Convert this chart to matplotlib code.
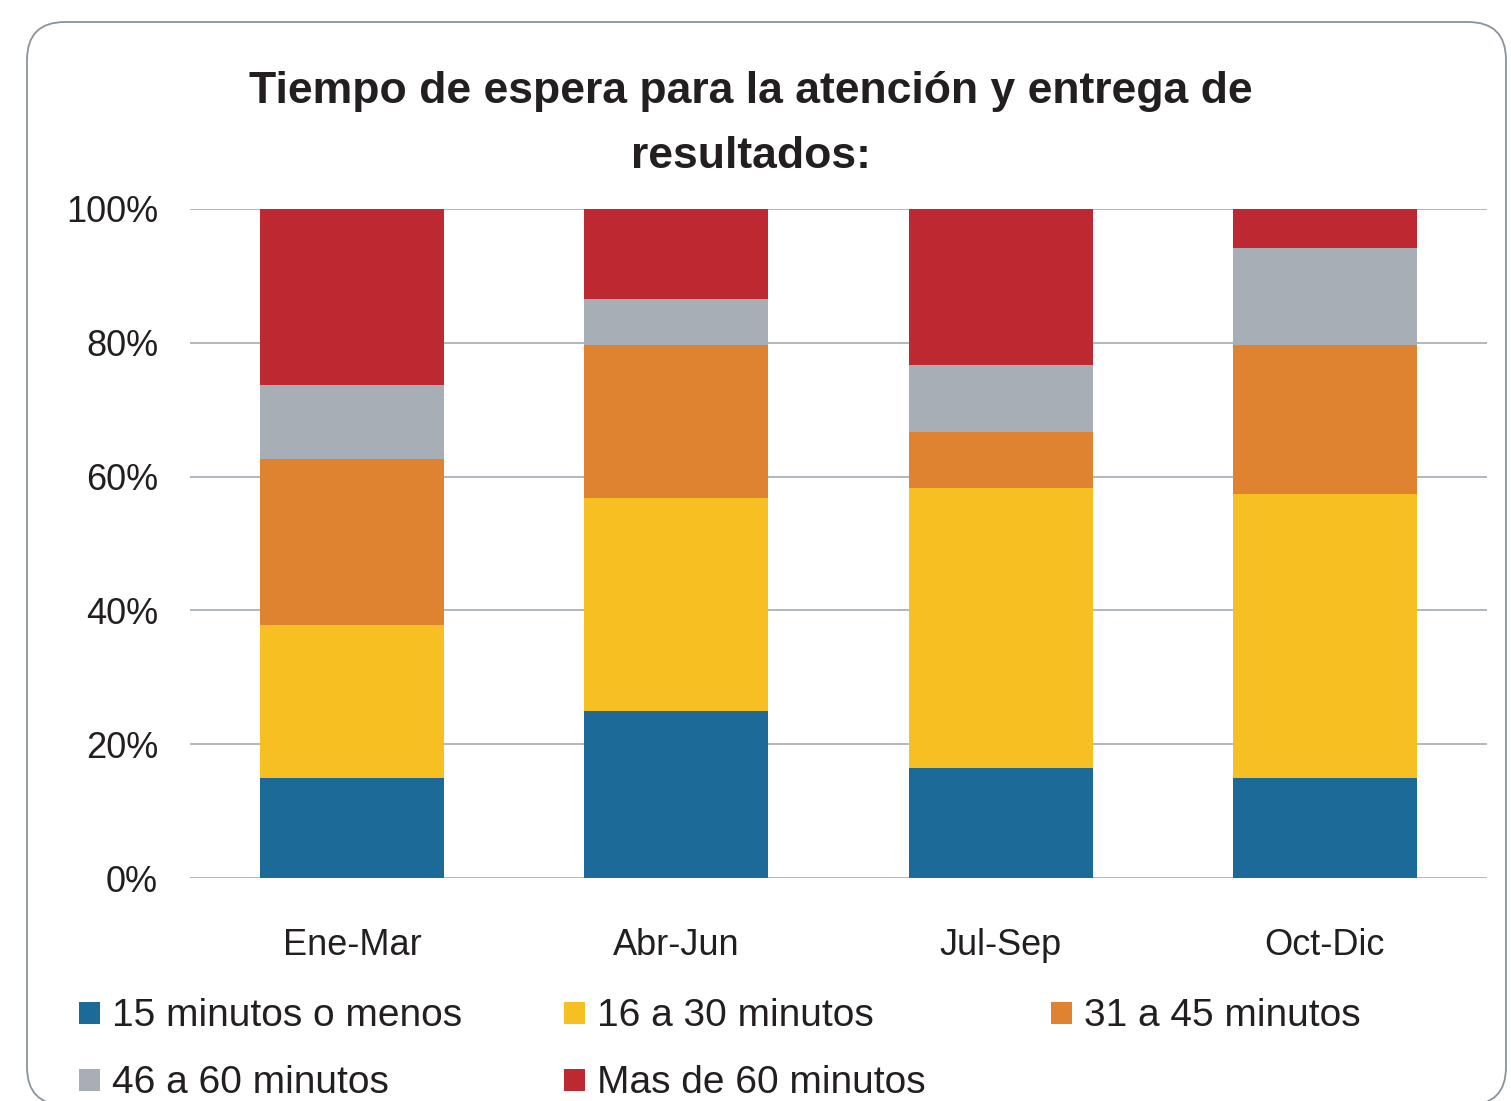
import matplotlib
matplotlib.use("Agg")
import matplotlib.pyplot as plt
from matplotlib.patches import FancyBboxPatch, Rectangle
import numpy as np

plt.rcParams['font.family'] = ['Liberation Sans Narrow', 'Liberation Sans', 'DejaVu Sans']

# datos (porcentajes por trimestre)
trimestres = ['Ene-Mar', 'Abr-Jun', 'Jul-Sep', 'Oct-Dic']
series = ['15 minutos o menos', '16 a 30 minutos', '31 a 45 minutos',
          '46 a 60 minutos', 'Mas de 60 minutos']
hasta_15 = [15.0, 25.0, 16.4, 15.0]
de_16_30 = [22.8, 31.8, 41.9, 42.4]
de_31_45 = [24.8, 22.9, 8.4, 22.3]
de_46_60 = [11.1, 6.8, 10.0, 14.5]
mas_60 = [26.3, 13.5, 23.3, 5.8]
colores = ['#1b6a98', '#f6c022', '#e08331', '#a8aeb5', '#be2830']

texto = '#231f20'

fig = plt.figure(figsize=(15.11, 11.01), dpi=100)

# marco redondeado (en pulgadas)
marco = FancyBboxPatch((0.27, -0.04), 15.06 - 0.27, 10.79 + 0.04,
                       boxstyle="round,pad=0,rounding_size=0.38",
                       transform=fig.dpi_scale_trans, facecolor='none',
                       edgecolor='#8a939c', linewidth=1.3)
fig.add_artist(marco)

ax = fig.add_axes([190 / 1511, 1 - 878 / 1101, (1487 - 190) / 1511, (878 - 209) / 1101])

datos = [hasta_15, de_16_30, de_31_45, de_46_60, mas_60]
x = np.arange(len(trimestres))
base = np.zeros(len(trimestres))
for vals, nombre, c in zip(datos, series, colores):
    vals = np.array(vals)
    ax.bar(x, vals, 0.568, bottom=base, color=c, label=nombre, zorder=2)
    base += vals

ax.set_xlim(-0.5, 3.5)
ax.set_ylim(0, 100)
ax.set_yticks(np.arange(0, 101, 20))
ax.set_yticklabels(['%d%%' % v for v in range(0, 101, 20)])
ax.yaxis.grid(True, color='#a3abb3', linewidth=1.2, zorder=0)
ax.set_axisbelow(True)
for s in ax.spines.values():
    s.set_visible(False)
ax.tick_params(axis='y', length=0, pad=23, labelsize=26, labelcolor=texto)
ax.set_xticks(x)
ax.set_xticklabels(trimestres)
ax.tick_params(axis='x', length=0, pad=36, labelsize=26, labelcolor=texto)

fig.text(0.497, 1 - 91 / 1101, 'Tiempo de espera para la atención y entrega de',
         ha='center', va='center', fontsize=32, fontweight='bold', color=texto)
fig.text(0.497, 1 - 156 / 1101, 'resultados:',
         ha='center', va='center', fontsize=32, fontweight='bold', color=texto)

# leyenda
pos = [(79, 1013), (564, 1013), (1051, 1013), (79, 1080), (564, 1080)]
for (px, py), nombre, c in zip(pos, series, colores):
    fig.add_artist(Rectangle((px / 1511, 1 - (py + 11) / 1101), 21 / 1511, 22 / 1101,
                             transform=fig.transFigure, facecolor=c, edgecolor='none'))
    fig.text((px + 33) / 1511, 1 - (py + 3) / 1101, nombre, ha='left', va='center',
             fontsize=28, color=texto)

fig.savefig('out.png', dpi=100)
